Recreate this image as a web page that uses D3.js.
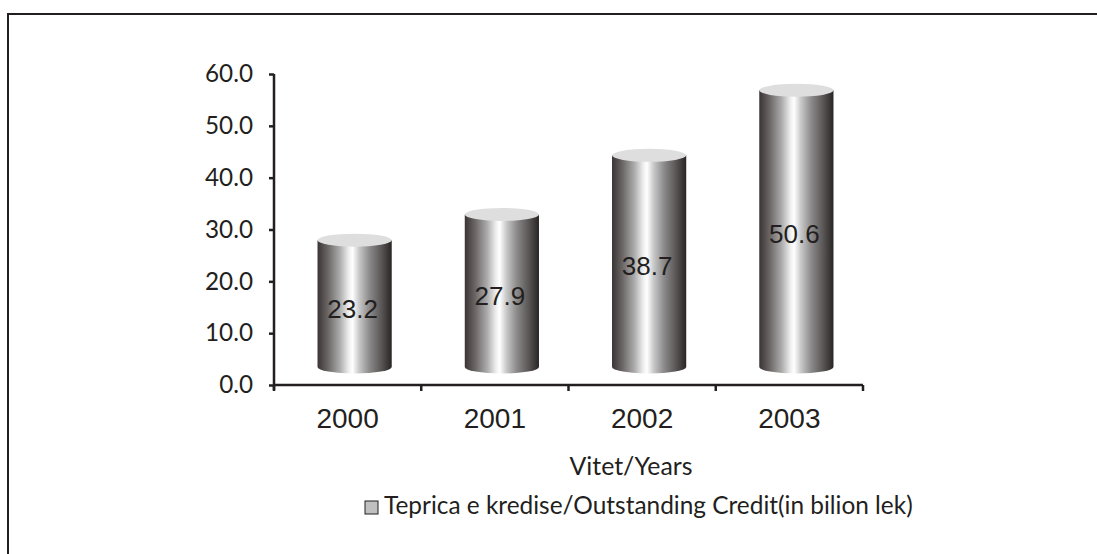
<!DOCTYPE html>
<html lang="en">
<head>
    <meta charset="UTF-8">
    <title>Teprica e kredise</title>
    <script src="https://d3js.org/d3.v7.min.js"></script>
    <style>
        body { margin: 0; background: #fff; }
        svg { display: block; }
        .ink { fill: #231f20; }
    </style>
</head>
<body>
    <div id="chart"></div>

    <script>
        // data
        const years = ["2000", "2001", "2002", "2003"];
        const credit = [23.2, 27.9, 38.7, 50.6];
        const yTicks = [0, 10, 20, 30, 40, 50, 60];
        const axisTitle = "Vitet/Years";
        const legendLabel = "Teprica e kredise/Outstanding Credit(in bilion lek)";

        const width = 1097, height = 554;
        const geo = "Lato, 'DejaVu Sans', sans-serif";
        const arial = "'Liberation Sans', Arial, sans-serif";
        const ink = "#231f20";

        const svg = d3.select("#chart").append("svg")
            .attr("width", width)
            .attr("height", height);

        // shrink/grow a text element's font so it spans the given width
        function fitWidth(sel, target) {
            const node = sel.node();
            const size = parseFloat(sel.attr("font-size"));
            const len = node.getComputedTextLength();
            if (len > 0) sel.attr("font-size", (size * target / len).toFixed(2));
        }

        // frame (only top and left edges show)
        svg.append("path")
            .attr("d", `M8,${height}V14H${width}`)
            .attr("fill", "none")
            .attr("stroke", ink)
            .attr("stroke-width", 2);

        const x = d3.scaleBand().domain(years).range([274, 863]);
        const y = d3.scaleLinear().domain([0, 60]).range([385, 74]);

        // cylinder gradient
        const defs = svg.append("defs");
        const grad = defs.append("linearGradient")
            .attr("id", "cyl")
            .attr("x1", "0%").attr("x2", "100%")
            .attr("y1", "0%").attr("y2", "0%");
        [
            [0, "#3a3534"], [0.14, "#6a6665"], [0.3, "#acabab"], [0.42, "#eeeeee"],
            [0.47, "#ffffff"], [0.56, "#c9c9c9"], [0.7, "#8c8a8a"], [0.86, "#5a5656"],
            [1, "#2a2525"]
        ].forEach(s => grad.append("stop").attr("offset", s[0]).attr("stop-color", s[1]));

        // y axis
        const yAxis = svg.append("g")
            .attr("transform", "translate(274,0)")
            .call(d3.axisLeft(y).tickValues(yTicks).tickFormat(d3.format(".1f"))
                .tickSize(5).tickSizeOuter(0).tickPadding(16));
        yAxis.select(".domain").attr("stroke", ink).attr("stroke-width", 2.5)
            .attr("d", `M0,${y(0) + 5}V${y(60)}`);
        yAxis.selectAll(".tick line").attr("stroke", ink).attr("stroke-width", 2.5);
        yAxis.selectAll(".tick text")
            .attr("fill", ink)
            .attr("font-family", geo)
            .attr("font-size", 22);
        yAxis.selectAll(".tick text").each(function () {
            const t = d3.select(this);
            fitWidth(t, 48 * this.getComputedTextLength() / yAxis.select(".tick:last-child text").node().getComputedTextLength());
        });

        // x axis: line with ticks at category boundaries
        svg.append("line")
            .attr("x1", x.range()[0]).attr("x2", x.range()[1])
            .attr("y1", y(0)).attr("y2", y(0))
            .attr("stroke", ink).attr("stroke-width", 2.5);
        const bounds = years.map(d => x(d)).concat([x.range()[1]]);
        svg.selectAll(".xtick").data(bounds).enter().append("line")
            .attr("class", "xtick")
            .attr("x1", d => d).attr("x2", d => d)
            .attr("y1", y(0)).attr("y2", y(0) + 6)
            .attr("stroke", ink).attr("stroke-width", 2.5);

        svg.selectAll(".year").data(years).enter().append("text")
            .attr("class", "year ink")
            .attr("x", d => x(d) + x.bandwidth() / 2)
            .attr("y", 428)
            .attr("text-anchor", "middle")
            .attr("font-family", arial)
            .attr("font-size", 28)
            .text(d => d);

        // cylinders (3D depth: set back 18px, slightly magnified by perspective)
        const depthLift = 18, persp = 1.055;
        const rx = x.bandwidth() * 0.252, ryTop = 6.5, ryBot = 6.5;
        const base = y(0) - depthLift;
        const cx = d => x(d) + x.bandwidth() / 2 + 7;
        const topY = v => base - (y(0) - y(v)) * persp;

        const bars = svg.selectAll(".bar")
            .data(years.map((d, i) => ({ year: d, value: credit[i] })))
            .enter().append("g")
            .attr("class", "bar");

        bars.append("path")
            .attr("d", d => {
                const c = cx(d.year), t = topY(d.value);
                return `M${c - rx},${t}V${base}A${rx},${ryBot} 0 0 0 ${c + rx},${base}V${t}Z`;
            })
            .attr("fill", "url(#cyl)");

        bars.append("ellipse")
            .attr("cx", d => cx(d.year))
            .attr("cy", d => topY(d.value))
            .attr("rx", rx)
            .attr("ry", ryTop)
            .attr("fill", "#dedede");

        bars.append("text")
            .attr("class", "ink")
            .attr("x", d => cx(d.year) - 2)
            .attr("y", d => (topY(d.value) + base) / 2 + 14)
            .attr("text-anchor", "middle")
            .attr("font-family", arial)
            .attr("font-size", 26)
            .text(d => d.value.toFixed(1));

        // axis title
        const title = svg.append("text")
            .attr("class", "ink")
            .attr("x", 631)
            .attr("y", 475)
            .attr("text-anchor", "middle")
            .attr("font-family", geo)
            .attr("font-size", 24)
            .text(axisTitle);
        fitWidth(title, 123);

        // legend
        svg.append("rect")
            .attr("x", 365).attr("y", 501)
            .attr("width", 13).attr("height", 13)
            .attr("fill", "#c0c0c0")
            .attr("stroke", ink)
            .attr("stroke-width", 1);
        const legend = svg.append("text")
            .attr("class", "ink")
            .attr("x", 384)
            .attr("y", 514)
            .attr("font-family", geo)
            .attr("font-size", 22)
            .text(legendLabel);
        fitWidth(legend, 529);
    </script>
</body>
</html>
